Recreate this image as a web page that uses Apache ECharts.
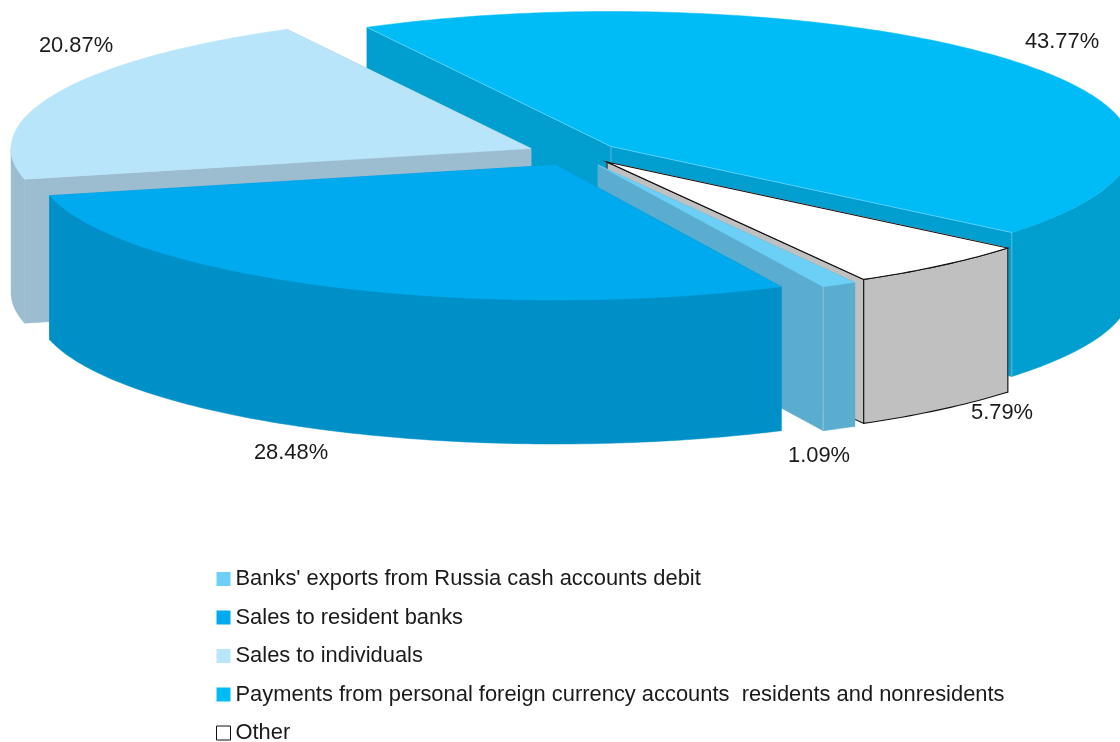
<!DOCTYPE html>
<html>
<head>
<meta charset="utf-8">
<style>html,body{margin:0;padding:0;background:#fff}#c{width:1120px;height:742px}</style>
<script src="https://cdn.jsdelivr.net/npm/echarts@6/dist/echarts.min.js"></script>
</head>
<body>
<div id="c"></div>
<script>
// ---- data (clockwise round the pie, from the upper-left cut) ----
const sliceNames = [
  'Payments from personal foreign currency accounts  residents and nonresidents',
  'Other',
  "Banks' exports from Russia cash accounts debit",
  'Sales to resident banks',
  'Sales to individuals'
];
const sliceValues = [43.77, 5.79, 1.09, 28.48, 20.87];
const legendOrder = [2, 3, 4, 0, 1];

// ---- styling ----
const topColors  = ['#00BCF6', '#FFFFFF', '#6CCFF6', '#00AAEE', '#B8E5FA'];
const wallColors = ['#009FCF', '#C0C0C0', '#5AADCF', '#0090C8', '#9CBDD0'];
const paintOrder = [0, 1, 2, 4, 3];

// ---- pie layout ----
const START_ANGLE = -28, RX = 520, RY = 135, DEPTH = 144;
const apexes = [[611,146.5],[607,162],[598,165],[556,165],[531,148.5]];
const labelCentres = [[1062,42],[1002,413],[819,456],[291,453],[76,46]];

const total = sliceValues.reduce((a,b)=>a+b,0);
const spans = [];
let acc = START_ANGLE;
sliceValues.forEach(v => { const s = v/total*360; spans.push([acc, acc+s]); acc += s; });

function pt(a, deg, dy){
  const r = deg*Math.PI/180;
  return [a[0]+RX*Math.sin(r), a[1]-RY*Math.cos(r)+(dy||0)];
}
function arc(a, from, to, dy){
  const out = [], n = Math.max(2, Math.ceil(Math.abs(to-from)));
  for(let i=0;i<=n;i++) out.push(pt(a, from+(to-from)*i/n, dy));
  return out;
}
function poly(points, fill, stroke, lw){
  return {type:'polygon', shape:{points}, style:{fill, stroke:stroke||fill, lineWidth:lw||0.5}};
}
function seam(p, q){
  return {type:'line', shape:{x1:p[0],y1:p[1],x2:q[0],y2:q[1]}, style:{stroke:'rgba(255,255,255,0.3)',lineWidth:1}};
}

function sliceRender(i){
  return function(){
    const a = apexes[i], s = spans[i][0], e = spans[i][1];
    const isOther = sliceNames[i]==='Other';
    const line = isOther ? '#111' : null, lw = isOther ? 1.1 : 0.5;
    const kids = [];
    const ps = pt(a,s), pe = pt(a,e);
    kids.push(poly([a,ps,pt(a,s,DEPTH),[a[0],a[1]+DEPTH]], wallColors[i], null, lw));
    kids.push(poly([a,pe,pt(a,e,DEPTH),[a[0],a[1]+DEPTH]], wallColors[i], line, lw));
    // the outer rim shows only on the near half of the ellipse
    const fs = Math.max(s,90), fe = Math.min(e,270);
    if(fe>fs){
      const t = arc(a,fs,fe,0), b = arc(a,fe,fs,DEPTH);
      kids.push(poly(t.concat(b), wallColors[i], line, lw));
      if(!isOther && i!==3 && i!==4) kids.push(seam(pt(a,fe),pt(a,fe,DEPTH)));
    }
    kids.push(poly([a].concat(arc(a,s,e,0)), topColors[i], line, lw));
    if(i===0){
      kids.push(seam(a,ps)); kids.push(seam(a,pe));
      kids.push(seam(a,[a[0],a[1]+18]));
    }
    kids.push({type:'text', z2:100, style:{
      x:labelCentres[i][0], y:labelCentres[i][1], text:sliceValues[i].toFixed(2)+'%',
      align:'center', verticalAlign:'middle', fill:'#1a1a1a',
      font:'21.9px "Liberation Sans", Arial, sans-serif'}});
    return {type:'group', children:kids};
  };
}

const series = paintOrder.map((i,k)=>({
  type:'custom', name:sliceNames[i], coordinateSystem:'none', z:2+k, silent:true,
  animation:false, clip:false, data:[sliceValues[i]],
  itemStyle:{color:topColors[i]}, renderItem:sliceRender(i)
}));

const chart = echarts.init(document.getElementById('c'), null, {width:1120, height:742});
chart.setOption({
  backgroundColor:'#fff', animation:false,
  legend:{
    orient:'vertical', left:216, top:568, height:200, padding:0, itemGap:16.5, itemWidth:14, itemHeight:14,
    icon:'rect', selectedMode:false,
    textStyle:{fontFamily:'"Liberation Sans", Arial, sans-serif', fontSize:21.9, color:'#1a1a1a', lineHeight:22},
    data:legendOrder.map(i=>({name:sliceNames[i],
      itemStyle: sliceNames[i]==='Other'
        ? {color:'#fff',borderColor:'#111',borderWidth:1}
        : {color:topColors[i],borderWidth:0}}))
  },
  series
});
</script>
</body>
</html>
